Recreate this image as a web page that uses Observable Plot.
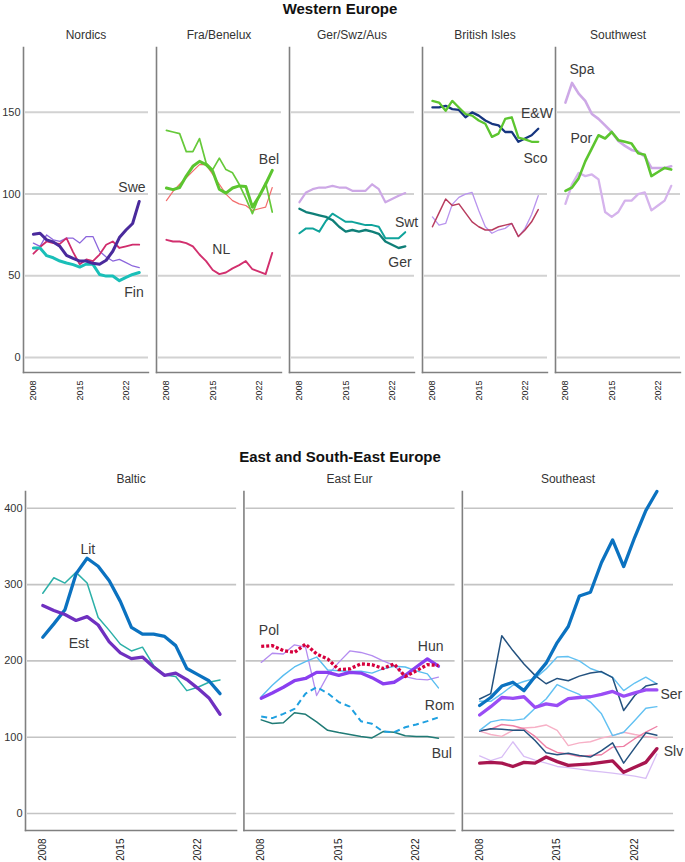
<!DOCTYPE html>
<html>
<head>
<meta charset="utf-8">
<script src="https://cdn.jsdelivr.net/npm/d3@7"></script>
<script src="https://cdn.jsdelivr.net/npm/@observablehq/plot@0.6"></script>
<style>
html,body{margin:0;padding:0;background:#fff;overflow:hidden}
.title{position:absolute;left:0;width:680px;text-align:center;font:bold 15px "Liberation Sans",Arial,sans-serif;color:#111;line-height:17px}
svg{display:block;position:absolute;left:0}
</style>
</head>
<body>
<div class="title" style="top:0px">Western Europe</div>
<div id="west"></div>
<div class="title" style="top:448px">East and South-East Europe</div>
<div id="east"></div>
<script>
const years = [2008,2009,2010,2011,2012,2013,2014,2015,2016,2017,2018,2019,2020,2021,2022,2023,2024];

// Western Europe
const westPanels = ["Nordics","Fra/Benelux","Ger/Swz/Aus","British Isles","Southwest"];
const swe = [75.4,76,72,70.7,68,62.5,60.6,59,59,57.6,57,59.5,65,73.4,78,82,95.5];
const fin = [67,67,62.3,61,59,57.8,56.8,55.3,57.2,57,50.8,49.8,49.8,47,49,50.8,52];
const nor = [70,68,75,72,71,73,73,70,74,74,65,61.5,59,60,58,56,55];
const den = [63.5,67.6,71,70,69.5,73,64.5,57,60,59,63,69,71,67,68,69,69];
const bel = [103.7,102.7,104,111,117,120,118,114,103,100.6,103.7,105,104.7,92,98.5,106,114.5];
const lux = [139,138,137,126,126,134,119,115,122,115,113,106,97.5,88,98.5,107,89];
const fra = [96,101.6,106,110,114,118,118,112,106,100,96,94,93,90,91,92,104];
const nl = [72,71,71,70,68,63,59,53.5,51,52,54.5,56.5,59,54,52.5,51,64];
const aut = [95,101,103,104,104,105,104,104,102,102,102,106,103,95,97,99,100.6];
const swt = [76,79,79,77,83.5,88,85.5,83,83,82,81,81,80,73,73,73,76.7];
const ger = [91,89,88,87,86,84,80,77,78,77,78,77,75.7,71,69,67,68];
const eaw = [153,153,154,152,151.5,147,150,148,145,143,142,138,138,132,134,136,140];
const sco = [157,156,151,157,153,149,148,145,143,135,137,146,147,134.5,133.5,132,132];
const ire = [86,81,82,93.7,98,100,101,90,80,76,78,79,82,74,79,87.5,99];
const nir = [80,88.5,97,93,94,88.5,83,80,78,78,80,81,82,74,78,83,90.5];
const spa = [156,168,161.5,157,149,146,142,138,132.5,129.5,127,126,123,116,116,116,117];
const por = [102,104,109.6,120,128,136,134,138,133,132,131,125,124,111,113.5,116,115];
const ita = [94,106,113,111,112,109,89,86,89,96,96,100,101,90,93,96,105];

// East and South-East Europe
const eastPanels = ["Baltic","East Eur","Southeast"];
const lat = [288.6,309,302,316,302,257,240,222,213,218,194,181.6,179.5,161,165.5,172,175];
const lit = [231,248.5,267,314,334.5,324,305,278,244,235,235,232,220,190,182,174,157];
const est = [272.5,266,260.7,253,258,247,225,210.5,203,205,192,181,184,175.5,164,151.5,130];
const cze = [198,210,209,221,218,154.6,181,198,213,211,207,200,194,179.5,176,175,178.6];
const svk = [153,168,181,192,199,205,188,187,186,186.5,184,189.5,193,192,187,183,164.6];
const bul = [122.7,118,119,132,130,120,109,106,103.5,101,99,107.4,106.5,102,101,101,98.7];
const rom = [127,125,130.5,137,157,165.5,157.6,146,140,121,117.5,107.4,106.5,113,116.6,121,126];
const hun = [151,158,165.5,174,177,185,185,181,185,184,178,170,172,181,192,202.6,193];
const pol = [219,220,213.5,211,222,209,202.6,188.6,189.5,196,195,190,196,179.5,187,195,194];
const seaLilac = [75.5,69.4,74,94,74.7,70,66,61.6,60,58,56,54.6,53,51,49,46,78];
const seaPinkA = [108,103.5,101,109,112,113,116,109,89,92.6,94,98.7,102,106.5,103.5,101,98.7];
const seaPinkB = [108,110.5,116.6,115,111,101,87,80,78,74.7,76,77,87,88,98,106.5,114];
const seaNavyLow = [108,111,110.5,109,109,95.6,79.5,77,79,76,74,82.5,92.6,66,86,105.7,102.6];
const seaSkyLow = [109,120,123,122,124,138,150,169,162,156,146,130.6,102,106.5,122,138,140];
const seaSkyHigh = [147,147,157,168,173,177,189.5,205,205.7,200,190,185,178.6,161,171,178.6,170];
const seaNavyHigh = [150,157,233,213.5,196,181,170,177,174,180,184,186,178,135,154.6,167,170];
const seaBlue = [141.5,152,167,172,161,179.5,197,224,245,285,290,329,358.5,323.6,362,397,422];
const ser = [129,140,152,151,153,139,143.7,141.5,150.6,152,153,156,160,153.7,158,162,162];
const slv = [66,67,66,61.6,67,66,74,68,63,64,65,67,69,54,60.7,67,85];

const westSeries = [
  ["Nordics","Nor",nor,"#8c66dc",1.3],["Nordics","Den",den,"#d02c6c",1.8],["Nordics","Fin",fin,"#1abfb8",3],["Nordics","Swe",swe,"#4a2a9c",3],
  ["Fra/Benelux","Fra",fra,"#f26c6c",1.2],["Fra/Benelux","Lux",lux,"#66c93a",1.7],["Fra/Benelux","NL",nl,"#d2306e",1.9],["Fra/Benelux","Bel",bel,"#5cc530",3],
  ["Ger/Swz/Aus","Aut",aut,"#cda8e6",2.2],["Ger/Swz/Aus","Swt",swt,"#0fa39b",2],["Ger/Swz/Aus","Ger",ger,"#0f7f78",2.4],
  ["British Isles","Ire",ire,"#b994ee",1.3],["British Isles","NIr",nir,"#b83c5e",1.5],["British Isles","E&W",eaw,"#16357f",2.3],["British Isles","Sco",sco,"#5cc530",2.3],
  ["Southwest","Ita",ita,"#d5b3ec",2.3],["Southwest","Spa",spa,"#cda8e6",2.6],["Southwest","Por",por,"#5cc530",2.6]
];
const eastSeries = [
  ["Baltic","Lat",lat,"#2cb0a8",1.5],["Baltic","Lit",lit,"#0b72c0",3.3],["Baltic","Est",est,"#6f30c0",3.3],
  ["East Eur","Cze",cze,"#b48cf0",1.3],["East Eur","Svk",svk,"#58bdf0",1.4],["East Eur","Bul",bul,"#1f7a75",1.5],["East Eur","Rom",rom,"#1fa0e0",2,"6 4"],["East Eur","Hun",hun,"#8a3ff0",3.3],["East Eur","Pol",pol,"#d6003d",3.3,"3 2"],
  ["Southeast","Lilac",seaLilac,"#d8bdf5",1.3],["Southeast","PinkA",seaPinkA,"#f7b0c6",1.4],["Southeast","PinkB",seaPinkB,"#ee7fa5",1.4],["Southeast","NavyLow",seaNavyLow,"#24527f",1.5],["Southeast","SkyLow",seaSkyLow,"#62c1f2",1.4],["Southeast","SkyHigh",seaSkyHigh,"#62c1f2",1.4],["Southeast","NavyHigh",seaNavyHigh,"#24527f",1.5],["Southeast","Blue",seaBlue,"#0b72c0",3.3],["Southeast","Ser",ser,"#9a4df5",3.3],["Southeast","Slv",slv,"#a8164f",3.3]
];

// series name labels: panel, text, year, value
const westLabels = [
  ["Nordics","Swe",2022.9,104],["Nordics","Fin",2023.2,40],
  ["Fra/Benelux","Bel",2023.5,121],["Fra/Benelux","NL",2016.3,66],
  ["Ger/Swz/Aus","Swt",2024.2,82.8],["Ger/Swz/Aus","Ger",2023.2,58.3],
  ["British Isles","E&W",2023.8,149.5],["British Isles","Sco",2023.6,121.5],
  ["Southwest","Spa",2010.5,176],["Southwest","Por",2010.4,134]
];
const eastLabels = [
  ["Baltic","Lit",2012.07,346],["Baltic","Est",2011.25,223],
  ["East Eur","Pol",2008.7,240],["East Eur","Hun",2023.3,219],["East Eur","Rom",2024.1,141.5],["East Eur","Bul",2024.3,78],
  ["Southeast","Ser",2025.3,156],["Southeast","Slv",2025.5,81.7]
];

const font = '"Liberation Sans",Arial,sans-serif';

function panelChart(o) {
  const seriesMarks = o.series.map(([panel,name,values,stroke,strokeWidth,dash]) =>
    Plot.line(years.map((year,i)=>({panel,year,value:values[i]})), {
      x:"year", y:"value", fx:"panel", stroke, strokeWidth,
      strokeDasharray:dash, strokeLinecap:dash ? "butt" : "round"
    }));
  return Plot.plot({
    width:685, height:o.height,
    marginTop:o.marginTop, marginBottom:o.marginBottom, marginLeft:o.marginLeft, marginRight:o.marginRight,
    style:{fontFamily:font, background:"transparent", position:"absolute", top:o.top+"px"},
    fx:{domain:o.panels, paddingInner:o.pad, paddingOuter:0, round:false, label:null},
    x:{domain:o.xDomain, label:null},
    y:{domain:o.yDomain, label:null},
    marks:[
      Plot.ruleY(o.yTicks, {stroke:o.gridColor, strokeWidth:o.gridWidth, insetLeft:2}),
      Plot.frame({anchor:"left", stroke:"#808080", strokeWidth:1.6}),
      Plot.frame({anchor:"bottom", stroke:"#808080", strokeWidth:1.4}),
      Plot.axisFx({anchor:"top", label:null, tickSize:0, tickPadding:o.fxPad, fontSize:12, fill:"#333"}),
      Plot.axisY({ticks:o.yTicks, tickSize:0, tickPadding:3, fontSize:11, fill:"#333", label:null}),
      Plot.axisX({ticks:[2008,2015,2022], tickFormat:"d", tickSize:0, tickRotate:-90, tickPadding:o.xPad, fontSize:o.xFont, fill:"#222", label:null}),
      ...seriesMarks,
      Plot.text(o.labels, {fx:d=>d[0], text:d=>d[1], x:d=>d[2], y:d=>d[3], fontSize:14, fill:"#3a3a3a"})
    ]
  });
}

document.getElementById("west").append(panelChart({
  top:14, height:394, marginTop:33, marginBottom:36, marginLeft:23, marginRight:5,
  panels:westPanels, pad:8/133, xDomain:[2006.5,2025.4], yDomain:[-9.2,189.7], yTicks:[0,50,100,150],
  gridColor:"#d2d2d2", gridWidth:2, series:westSeries, labels:westLabels, fxPad:9, xPad:8, xFont:9
}));
document.getElementById("east").append(panelChart({
  top:464, height:398, marginTop:27, marginBottom:32, marginLeft:25, marginRight:12,
  panels:eastPanels, pad:7.3/218.3, xDomain:[2006.44,2025.5], yDomain:[-22.3,422], yTicks:[0,100,200,300,400],
  gridColor:"#c4c4c4", gridWidth:1.6, series:eastSeries, labels:eastLabels, fxPad:9, xPad:8, xFont:10
}));
</script>
</body>
</html>
